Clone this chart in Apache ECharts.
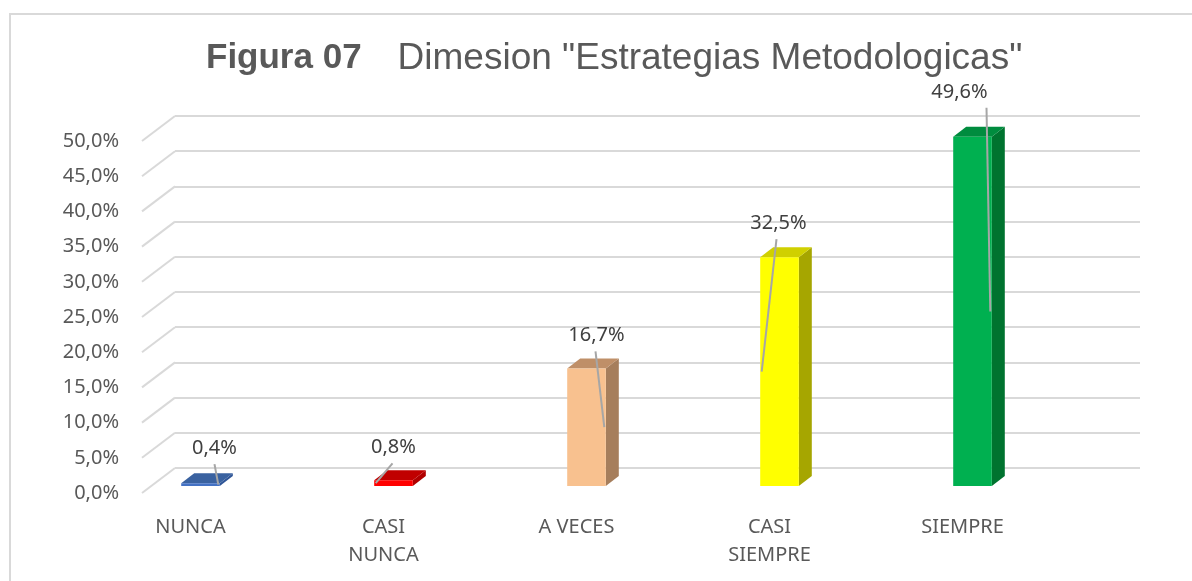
<!DOCTYPE html>
<html>
<head>
<meta charset="utf-8">
<script src="https://cdn.jsdelivr.net/npm/echarts@6/dist/echarts.min.js"></script>
<style>
  html, body { margin: 0; padding: 0; background: #ffffff; }
  #chart { width: 1192px; height: 581px; }
</style>
</head>
<body>
<div id="chart"></div>
<script>
// ---- data ----
const categories = ['NUNCA', 'CASI\nNUNCA', 'A VECES', 'CASI\nSIEMPRE', 'SIEMPRE'];
const values = [0.4, 0.8, 16.7, 32.5, 49.6];
const yTicks = [0, 5, 10, 15, 20, 25, 30, 35, 40, 45, 50];

// ---- style ----
const frontColors = ['#4472C4', '#FF0000', '#F8C18F', '#FFFF00', '#00B050'];
const sideColors  = ['#2F5597', '#B00000', '#A67E5C', '#A6A600', '#00732F'];
const topColors   = ['#3A62A0', '#C00000', '#BF8F68', '#D0D000', '#008C3E'];
// label placement tweaks (pixels), to mimic the reference's data callouts
const labelDx = [14, 0, 10, -1, -13];
const labelDy = [-35, -33, -33, -34, -45];
const leaderStartDx = [0, -1, -1, -2, 27];
const leaderSide = [1, -1, 1, -1, 1];

const DEPTH_X = 13, DEPTH_Y = 10;
const WALL_X = 33, WALL_Y = 25;
const gridColor = '#D9D9D9';
const textColor = '#595959';
const FONT = '"Noto Sans", "Open Sans", sans-serif';
const TITLE_FONT = '"Liberation Sans", Arial, sans-serif';

const fmt = v => v.toFixed(1).replace('.', ',') + '%';

const chart = echarts.init(document.getElementById('chart'), null, { renderer: 'canvas' });

const option = {
  backgroundColor: '#ffffff',
  animation: false,
  title: {
    left: 201,
    top: 35,
    text: '{b|Figura 07}{n|Dimesion "Estrategias Metodologicas"}',
    textStyle: {
      rich: {
        b: { fontFamily: TITLE_FONT, fontWeight: 'bold', fontSize: 35, color: textColor, padding: [0, 36, 0, 0] },
        n: { fontFamily: TITLE_FONT, fontWeight: 'normal', fontSize: 37, color: textColor }
      }
    }
  },
  graphic: [{
    type: 'rect',
    shape: { x: 10, y: 14, width: 1200, height: 600 },
    style: { fill: 'none', stroke: '#D9D9D9', lineWidth: 2 },
    silent: true,
    z: -10
  }],
  grid: [
    { left: 104, width: 965, top: 134, bottom: 95 },   // bars
    { left: 142, width: 965, top: 141, bottom: 88 },   // front (labels)
    { left: 175, width: 965, top: 116, bottom: 113 }   // back wall
  ],
  xAxis: [
    {
      gridIndex: 0, type: 'category', data: categories,
      axisLine: { show: false }, axisTick: { show: false },
      axisLabel: {
        color: textColor, fontFamily: FONT, fontSize: 20, lineHeight: 28,
        margin: 27, padding: [0, 20, 0, 0], interval: 0
      }
    },
    { gridIndex: 1, type: 'value', min: 0, max: 1, show: false },
    { gridIndex: 2, type: 'value', min: 0, max: 1, show: false }
  ],
  yAxis: [
    { gridIndex: 0, type: 'value', min: 0, max: 50, interval: 5, show: false },
    {
      gridIndex: 1, type: 'value', min: 0, max: 50, interval: 5,
      axisLine: { show: false }, axisTick: { show: false }, splitLine: { show: false },
      axisLabel: { color: textColor, fontFamily: FONT, fontSize: 20, margin: 23, formatter: v => fmt(v) }
    },
    {
      gridIndex: 2, type: 'value', min: 0, max: 50, interval: 5,
      axisLine: { show: false }, axisTick: { show: false }, axisLabel: { show: false },
      splitLine: { show: true, lineStyle: { color: gridColor, width: 2 } }
    }
  ],
  series: [
    {
      // diagonal wall lines from the front labels back to the wall gridlines
      type: 'custom', xAxisIndex: 2, yAxisIndex: 2, silent: true,
      data: yTicks.map(v => [0, v]),
      renderItem: (params, api) => {
        const p = api.coord([0, api.value(1)]);
        return {
          type: 'line',
          shape: { x1: p[0], y1: p[1], x2: p[0] - WALL_X, y2: p[1] + WALL_Y },
          style: { stroke: gridColor, lineWidth: 2 }
        };
      },
      z: 1
    },
    {
      type: 'custom', xAxisIndex: 0, yAxisIndex: 0, silent: true,
      data: values.map((v, i) => [i, v]),
      renderItem: (params, api) => {
        const i = params.dataIndex;
        const v = api.value(1);
        const base = api.coord([i, 0]);
        const topP = api.coord([i, v]);
        const w = api.size([1, 0])[0] * 0.2;
        const cx = base[0];
        const yb = base[1], yt = topP[1];
        const l = cx - w / 2, r = cx + w / 2;
        const lx = cx + labelDx[i], ly = yt + labelDy[i];
        const midY = (yb + yt) / 2;
        return {
          type: 'group',
          children: [
            { type: 'polygon', shape: { points: [[r, yb], [r + DEPTH_X, yb - DEPTH_Y], [r + DEPTH_X, yt - DEPTH_Y], [r, yt]] },
              style: { fill: sideColors[i] } },
            { type: 'polygon', shape: { points: [[l, yt], [l + DEPTH_X, yt - DEPTH_Y], [r + DEPTH_X, yt - DEPTH_Y], [r, yt]] },
              style: { fill: topColors[i] } },
            { type: 'rect', shape: { x: l, y: yt, width: w, height: Math.max(yb - yt, 1) },
              style: { fill: frontColors[i] } },
            { type: 'line', shape: { x1: lx + leaderStartDx[i], y1: ly + 16, x2: cx + leaderSide[i] * (w / 2 - 1.5), y2: midY },
              style: { stroke: '#A6A6A6', lineWidth: 2 }, z2: 10 },
            { type: 'text', x: lx, y: ly,
              style: { text: fmt(v), fill: '#404040', font: '20px ' + FONT, align: 'center', verticalAlign: 'middle' }, z2: 11 }
          ]
        };
      },
      z: 3
    }
  ]
};

chart.setOption(option);
</script>
</body>
</html>
